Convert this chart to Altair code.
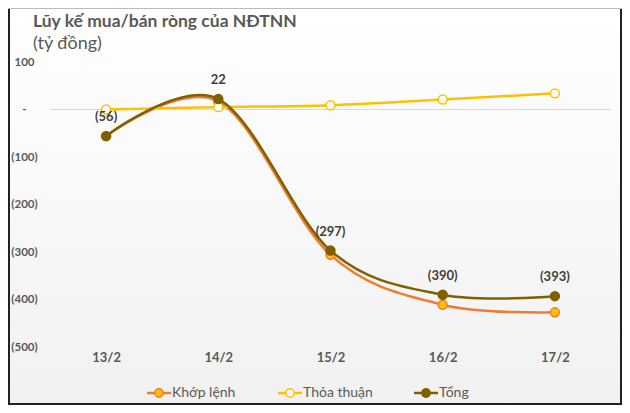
import altair as alt
import pandas as pd

dates = ["13/2", "14/2", "15/2", "16/2", "17/2"]
series = ["Khớp lệnh", "Thỏa thuận", "Tổng"]
khop_lenh = [-56, 17, -306, -411, -427]
thoa_thuan = [0, 5, 9, 21, 34]
tong = [-56, 22, -297, -390, -393]
y_ticks = [100, 0, -100, -200, -300, -400, -500]
title_text = "Lũy kế mua/bán ròng của NĐTNN"
subtitle_text = "(tỷ đồng)"

line_colors = ["#ED7D31", "#FFC000", "#7F6000"]
marker_fills = ["#FFC000", "#FFFFFF", "#7F6000"]

rows = []
for name, vals in zip(series, [khop_lenh, thoa_thuan, tong]):
    for d, v in zip(dates, vals):
        rows.append({"date": d, "series": name, "value": v})
df = pd.DataFrame(rows)


def paren(v):
    return f"({abs(v)})" if v < 0 else (str(v) if v > 0 else "-")


lab = pd.DataFrame({"date": dates, "value": tong, "label": [paren(v) for v in tong]})

W, H = 561, 285
PL, PT, PR, PB = 42, 54, 11, 58
FONT = "Lato"
GREY = "#595959"

x_scale = alt.Scale(domain=dates, paddingOuter=0.5)
y_scale = alt.Scale(domain=[-500, 100], nice=False)

x_enc = alt.X("date:N", sort=dates, scale=x_scale,
              axis=alt.Axis(title=None, labelAngle=0, labelFont=FONT, labelFontWeight="bold",
                            labelFontSize=13, labelColor=GREY, domain=False, ticks=False,
                            tickSize=0, labelPadding=4, zindex=2))
y_enc = alt.Y("value:Q", scale=y_scale,
              axis=alt.Axis(title=None, values=y_ticks, grid=False, domain=False, ticks=False,
                            tickSize=0, labelPadding=26, labelAlign="center",
                            labelFont=FONT, labelFontWeight="bold", labelFontSize=11.5,
                            labelColor=GREY, zindex=2,
                            labelExpr="datum.value == 0 ? '-' : (datum.value < 0 ? '(' + format(-datum.value, 'd') + ')' : format(datum.value, 'd'))"))

one = alt.Data(values=[{}])

bg = alt.Chart(one).mark_rect(
    fill=alt.LinearGradient(gradient="linear", x1=0, x2=0, y1=0, y2=1,
                            stops=[alt.GradientStop(color="#FFFFFF", offset=0),
                                   alt.GradientStop(color="#F1F1F1", offset=1)])
).encode(x=alt.value(-PL), x2=alt.value(W + PR), y=alt.value(-PT), y2=alt.value(H + PB))

border_layers = [
    alt.Chart(one).mark_rule(color="#222222", strokeWidth=2).encode(
        x=alt.value(-PL + 1), y=alt.value(-PT), y2=alt.value(H + PB)),
    alt.Chart(one).mark_rule(color="#222222", strokeWidth=2).encode(
        x=alt.value(W + PR - 1), y=alt.value(-PT), y2=alt.value(H + PB)),
    alt.Chart(one).mark_rule(color="#222222", strokeWidth=2).encode(
        y=alt.value(H + PB - 1), x=alt.value(-PL), x2=alt.value(W + PR)),
    alt.Chart(one).mark_rule(color="#BBBBBB", strokeWidth=1).encode(
        y=alt.value(-PT + 0.5), x=alt.value(-PL), x2=alt.value(W + PR)),
]

title_layers = [
    alt.Chart(one).mark_text(font=FONT, fontSize=17.5, fontWeight="bold", color=GREY,
                             align="left", baseline="alphabetic").encode(
        x=alt.value(-17), y=alt.value(-35), text=alt.value(title_text)),
    alt.Chart(one).mark_text(font=FONT, fontSize=18, color=GREY,
                             align="left", baseline="alphabetic").encode(
        x=alt.value(-17), y=alt.value(-13), text=alt.value(subtitle_text)),
]

zero = alt.Chart(pd.DataFrame({"value": [0]})).mark_rule(color="#D9D9D9", strokeWidth=1).encode(
    y=alt.Y("value:Q", scale=y_scale))

line_layers = []
for name, lc, mf in zip(series, line_colors, marker_fills):
    sub = df[df["series"] == name]
    base = alt.Chart(sub).encode(x=x_enc, y=y_enc)
    line_layers.append(base.mark_line(color=lc, strokeWidth=2.5, interpolate="cardinal"))
    line_layers.append(base.mark_point(filled=True, fill=mf, stroke=lc, strokeWidth=1.5,
                                       size=80, opacity=1, shape="circle"))

labels = alt.Chart(lab).mark_text(font=FONT, fontWeight="bold", fontSize=13, color="#404040",
                                  dy=-19, baseline="middle").encode(
    x=alt.X("date:N", sort=dates, scale=x_scale),
    y=alt.Y("value:Q", scale=y_scale),
    text="label:N")

legend_layers = []
leg_y = 331
leg_start = [97, 228, 364]
for name, lc, mf, x0 in zip(series, line_colors, marker_fills, leg_start):
    legend_layers.append(alt.Chart(one).mark_rule(color=lc, strokeWidth=2.5).encode(
        x=alt.value(x0), x2=alt.value(x0 + 24), y=alt.value(leg_y)))
    legend_layers.append(alt.Chart(one).mark_point(filled=True, fill=mf, stroke=lc, strokeWidth=1.5,
                                                   size=70, opacity=1, shape="circle").encode(
        x=alt.value(x0 + 12), y=alt.value(leg_y)))
    legend_layers.append(alt.Chart(one).mark_text(font=FONT, fontSize=14, color=GREY, align="left",
                                                  baseline="middle").encode(
        x=alt.value(x0 + 25), y=alt.value(leg_y), text=alt.value(name)))

chart = alt.layer(bg, *border_layers, *title_layers, zero, *line_layers, labels,
                  *legend_layers).properties(
    width=W, height=H,
    padding={"left": PL, "top": PT, "right": PR, "bottom": PB},
    autosize=alt.AutoSizeParams(type="none"),
    background="#FFFFFF",
).configure_view(stroke=None)

chart.save("out.html", embed_options={"renderer": "svg", "actions": False})
